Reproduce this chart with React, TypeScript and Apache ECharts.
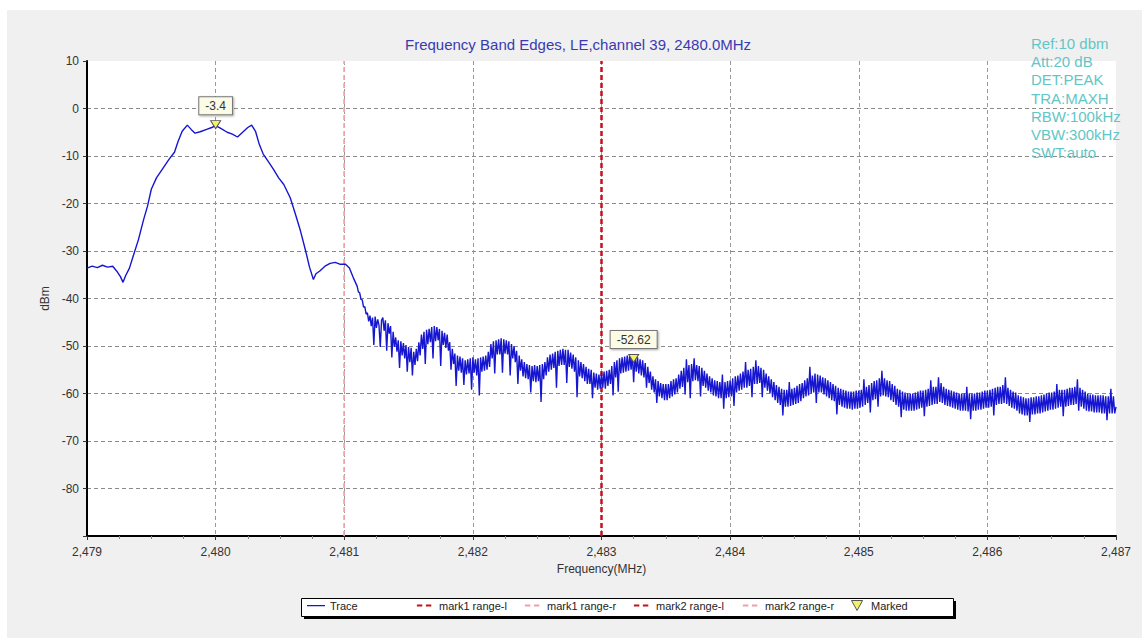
import React, { useEffect, useRef } from "react";
import * as echarts from "echarts";

const TITLE = "Frequency Band Edges, LE,channel 39, 2480.0MHz";
const INFO_LINES = ["Ref:10 dbm", "Att:20 dB", "DET:PEAK", "TRA:MAXH", "RBW:100kHz", "VBW:300kHz", "SWT:auto"];
const X_NAME = "Frequency(MHz)";
const Y_NAME = "dBm";
const X_MIN = 2479;
const X_MAX = 2487;
const Y_MIN = -90;
const Y_MAX = 10;
const LEGEND_NAMES = ["Trace", "mark1 range-l", "mark1 range-r", "mark2 range-l", "mark2 range-r", "Marked"];

// Main lobe: [frequency MHz, level dBm]
const lobe: [number, number][] = [
  [2479.0, -33.6], [2479.04, -33.2], [2479.08, -33.5], [2479.12, -33.0], [2479.16, -33.4], [2479.2, -33.2],
  [2479.23, -34.2], [2479.26, -35.4], [2479.28, -36.6], [2479.3, -35.2], [2479.33, -33.6], [2479.36, -31.0],
  [2479.4, -27.6], [2479.44, -23.4], [2479.47, -20.6], [2479.5, -17.0], [2479.54, -14.6], [2479.59, -12.6],
  [2479.64, -10.6], [2479.68, -9.2], [2479.71, -6.8], [2479.74, -4.8], [2479.78, -3.5], [2479.81, -4.4],
  [2479.84, -5.2], [2479.88, -4.9], [2479.93, -4.4], [2479.97, -4.0], [2480.0, -3.6], [2480.04, -4.2],
  [2480.09, -5.0], [2480.13, -5.4], [2480.17, -6.0], [2480.21, -5.0], [2480.25, -4.0], [2480.28, -3.5],
  [2480.31, -4.8], [2480.34, -7.6], [2480.37, -9.6], [2480.41, -11.2], [2480.45, -12.8], [2480.49, -14.6],
  [2480.53, -16.0], [2480.58, -18.8], [2480.62, -22.2], [2480.66, -25.8], [2480.7, -30.0], [2480.73, -33.4],
  [2480.76, -36.0], [2480.78, -34.8], [2480.81, -34.2], [2480.85, -33.2], [2480.89, -32.6], [2480.93, -32.4],
  [2480.97, -32.8], [2481.01, -32.8], [2481.04, -33.6], [2481.07, -35.6],
];

// Out-of-band trace, sampled every 0.01 MHz from 2481.10 MHz
const TAIL_START = 2481.1;
const TAIL_STEP = 0.01;
const tail: number[] = [
  -37.4, -38.6, -38.8, -40.2, -40.3, -41.8, -41.7, -43.3, -43.0, -44.8, // 2481.10
  -43.6, -45.8, -44.0, -49.8, -43.8, -46.2, -44.4, -45.6, -50.2, -44.6, // 2481.20
  -44.0, -46.8, -44.6, -51.0, -45.2, -47.4, -45.8, -52.4, -47.0, -50.2, // 2481.30
  -48.2, -51.2, -48.8, -54.6, -49.0, -52.0, -49.4, -52.6, -49.8, -55.4, // 2481.40
  -50.2, -53.4, -50.4, -56.2, -51.2, -54.0, -50.6, -53.2, -49.2, -52.0, // 2481.50
  -47.6, -50.6, -47.0, -53.8, -46.6, -49.6, -46.4, -49.2, -46.0, -52.6, // 2481.60
  -45.8, -49.0, -46.0, -48.8, -46.4, -54.2, -46.8, -49.8, -47.2, -50.4, // 2481.70
  -47.6, -51.0, -49.2, -55.0, -50.6, -53.8, -51.6, -58.4, -52.0, -55.2, // 2481.80
  -52.2, -55.6, -52.6, -58.2, -53.0, -56.0, -52.8, -55.8, -52.6, -59.2, // 2481.90
  -52.4, -55.6, -52.8, -56.2, -52.6, -60.4, -52.4, -55.4, -52.2, -55.2, // 2482.00
  -52.0, -55.0, -51.2, -54.4, -49.6, -52.6, -49.0, -55.8, -48.8, -51.8, // 2482.10
  -48.6, -51.8, -48.4, -55.6, -48.6, -51.6, -48.8, -51.8, -49.0, -56.2, // 2482.20
  -49.6, -52.6, -50.0, -53.4, -51.0, -58.0, -52.0, -55.2, -52.8, -56.4, // 2482.30
  -53.4, -56.8, -53.8, -57.0, -54.0, -59.8, -54.2, -57.4, -54.0, -57.6, // 2482.40
  -54.2, -57.4, -54.0, -61.8, -53.8, -57.0, -53.4, -56.2, -52.4, -55.4, // 2482.50
  -51.8, -55.0, -51.6, -54.6, -51.2, -58.8, -51.0, -54.2, -50.8, -54.0, // 2482.60
  -50.6, -54.0, -50.8, -57.8, -50.8, -54.4, -51.4, -54.8, -51.8, -55.4, // 2482.70
  -52.4, -60.8, -53.0, -56.4, -53.4, -56.8, -53.8, -57.4, -54.4, -58.0, // 2482.80
  -54.8, -58.0, -55.0, -61.0, -55.6, -58.8, -55.8, -59.2, -56.0, -59.0, // 2482.90
  -55.6, -58.8, -55.4, -59.0, -55.2, -58.4, -55.0, -58.0, -54.2, -60.4, // 2483.00
  -53.4, -56.6, -53.0, -59.6, -52.6, -55.8, -52.4, -55.6, -52.2, -55.4, // 2483.10
  -52.0, -55.2, -51.8, -55.0, -51.8, -57.6, -52.0, -55.4, -52.4, -55.8, // 2483.20
  -52.8, -56.2, -53.0, -56.6, -53.6, -58.8, -54.4, -57.8, -55.4, -59.2, // 2483.30
  -56.4, -59.8, -57.0, -62.0, -57.4, -60.6, -57.8, -61.0, -58.0, -61.4, // 2483.40
  -58.0, -61.4, -58.0, -61.0, -57.4, -60.6, -57.0, -60.2, -56.8, -59.8, // 2483.50
  -56.0, -59.0, -55.2, -58.6, -54.6, -60.2, -52.8, -57.6, -54.0, -61.0, // 2483.60
  -53.8, -57.4, -52.6, -57.2, -54.0, -57.4, -54.2, -60.6, -54.6, -58.4, // 2483.70
  -55.2, -58.8, -55.8, -59.4, -56.4, -59.8, -56.8, -60.4, -57.2, -60.6, // 2483.80
  -57.4, -61.0, -57.6, -61.0, -56.0, -63.2, -57.6, -61.0, -57.4, -60.8, // 2483.90
  -57.2, -60.6, -56.8, -62.6, -56.4, -59.8, -56.2, -59.4, -55.8, -59.2, // 2484.00
  -55.4, -58.8, -53.4, -58.8, -55.0, -58.4, -54.8, -60.8, -54.4, -58.0, // 2484.10
  -53.0, -58.0, -54.2, -57.8, -54.6, -60.8, -55.0, -58.8, -55.8, -59.4, // 2484.20
  -56.4, -60.0, -57.0, -60.8, -57.6, -61.4, -58.2, -62.0, -58.6, -62.4, // 2484.30
  -59.0, -64.6, -59.2, -62.8, -59.2, -62.8, -57.6, -62.6, -59.0, -62.4, // 2484.40
  -58.8, -62.2, -58.4, -62.0, -58.0, -61.6, -57.8, -61.0, -57.2, -60.6, // 2484.50
  -56.8, -60.4, -54.4, -60.0, -56.2, -59.8, -55.8, -62.0, -56.0, -59.8, // 2484.60
  -56.2, -59.8, -56.6, -60.2, -56.8, -60.6, -57.2, -61.0, -57.6, -61.4, // 2484.70
  -58.0, -61.6, -58.4, -64.4, -58.8, -62.4, -59.0, -62.8, -59.2, -63.0, // 2484.80
  -59.4, -63.2, -59.6, -63.2, -59.6, -63.4, -59.6, -63.2, -59.4, -63.2, // 2484.90
  -59.4, -63.0, -59.2, -62.8, -57.0, -62.4, -58.6, -62.0, -58.2, -64.0, // 2485.00
  -57.8, -61.4, -57.4, -61.2, -57.2, -62.8, -56.8, -60.6, -55.2, -60.4, // 2485.10
  -56.8, -60.6, -57.2, -60.8, -57.4, -61.4, -58.0, -61.8, -58.4, -62.4, // 2485.20
  -59.0, -62.8, -59.2, -65.0, -59.6, -63.4, -59.8, -63.6, -60.0, -63.6, // 2485.30
  -60.0, -63.6, -60.0, -63.6, -59.8, -63.4, -59.6, -63.2, -59.4, -63.0, // 2485.40
  -59.4, -64.8, -59.2, -62.8, -59.0, -62.6, -57.2, -62.4, -58.6, -62.2, // 2485.50
  -58.6, -62.2, -56.6, -61.8, -57.8, -62.0, -58.6, -62.4, -59.0, -62.6, // 2485.60
  -59.2, -62.8, -59.4, -63.0, -59.6, -63.2, -59.8, -63.4, -60.0, -63.6, // 2485.70
  -60.0, -63.6, -60.0, -63.6, -58.6, -63.8, -60.0, -65.4, -60.0, -63.6, // 2485.80
  -60.0, -63.6, -59.8, -63.4, -59.8, -63.4, -59.6, -63.2, -59.4, -63.0, // 2485.90
  -59.4, -63.0, -59.2, -62.8, -59.0, -64.6, -58.8, -62.4, -58.6, -62.2, // 2486.00
  -58.6, -62.2, -58.2, -62.0, -56.6, -62.2, -58.8, -62.6, -59.2, -63.0, // 2486.10
  -59.6, -63.2, -59.8, -63.6, -60.4, -64.2, -60.6, -64.4, -60.8, -64.6, // 2486.20
  -61.0, -64.6, -61.0, -66.0, -60.8, -64.4, -60.8, -64.4, -60.6, -64.2, // 2486.30
  -60.6, -64.2, -60.4, -64.0, -60.2, -63.8, -60.0, -63.6, -59.8, -63.4, // 2486.40
  -59.8, -63.4, -59.6, -63.2, -58.0, -63.0, -59.2, -62.8, -59.2, -64.8, // 2486.50
  -59.2, -62.8, -59.0, -62.6, -58.8, -62.4, -58.8, -62.4, -58.6, -62.2, // 2486.60
  -57.0, -63.6, -58.8, -62.8, -59.2, -63.2, -59.6, -63.6, -60.0, -63.8, // 2486.70
  -60.2, -63.8, -60.2, -64.0, -60.4, -64.0, -60.4, -64.0, -60.4, -64.2, // 2486.80
  -60.4, -64.2, -60.6, -65.6, -60.6, -64.2, -59.0, -64.2, -60.6, -64.2, // 2486.90
  -62.8, // 2487.00
];

// Markers: [frequency MHz, level dBm]
const markers: [number, number][] = [
  [2480.0, -3.4],
  [2483.25, -52.62],
];

// Vertical range markers (MHz)
const MARK1_RANGE_L = 2483;
const MARK1_RANGE_R = 2481;
const MARK2_RANGE_L = 2483;
const MARK2_RANGE_R = 2481;

const FONT = "'Liberation Sans', Arial, sans-serif";

const SPECKS = "M0,0h0.01v0.01h-0.01z M20,10h0.01v0.01h-0.01z ";
const ICON_SOLID = "path://" + SPECKS + "M0,4.4h20v1.3h-20z";
const ICON_DASH = "path://" + SPECKS + "M1,3.9h6v2.2h-6z M11,3.9h6v2.2h-6z";
const ICON_TRI = "path://M0,0L10,0L5,9Z";

function fmtX(v: number): string {
  const r = Math.round(v);
  const th = Math.floor(r / 1000);
  const rest = String(r % 1000).padStart(3, "0");
  return `${th},${rest}`;
}

export default function App() {
  const ref = useRef<HTMLDivElement>(null);
  useEffect(() => {
    if (!ref.current) return;
    const chart = echarts.init(ref.current, undefined, { renderer: "svg" });
    const trace: [number, number][] = [
      ...lobe,
      ...tail.map((v, i) => [Number((TAIL_START + i * TAIL_STEP).toFixed(2)), v] as [number, number]),
    ];
    const vline = (x: number): [number, number][] => [[x, Y_MIN], [x, Y_MAX]];
    const DARK = "#c8101a";
    const PINK = "#f0a0a8";
    const TRACE = "#1616d0";
    const dark = { color: DARK, width: 2, type: [5, 3] as number[] };
    const pink = { color: PINK, width: 1.5, type: [5, 3] as number[] };
    const legendIcons = [ICON_SOLID, ICON_DASH, ICON_DASH, ICON_DASH, ICON_DASH, ICON_TRI];
    const legendColors = [TRACE, DARK, PINK, DARK, PINK, "#f4f06a"];
    const legendLefts = [307, 416, 524, 633, 742, 851];
    const legends = LEGEND_NAMES.map((name, i) => ({
      left: legendLefts[i], top: 600, padding: 0,
      itemWidth: 18, itemHeight: 10, itemTextGap: 5,
      textStyle: { fontSize: 11, color: "#222", fontFamily: FONT },
      data: [
        {
          name, icon: legendIcons[i],
          itemStyle: i === 5
            ? { color: legendColors[i], borderColor: "#555", borderWidth: 1 }
            : { color: legendColors[i], borderWidth: 0 },
        },
      ],
    }));
    chart.setOption({
      animation: false,
      textStyle: { fontFamily: FONT },
      graphic: [
        { type: "rect", z: -10, shape: { x: 7, y: 10, width: 1135, height: 628 }, style: { fill: "#f0f0f0" }, silent: true },
        { type: "rect", z: 1, shape: { x: 304, y: 601, width: 652, height: 18 }, style: { fill: "#000" }, silent: true },
        { type: "rect", z: 2, shape: { x: 301.5, y: 598.5, width: 652, height: 18 }, style: { fill: "#fff", stroke: "#000", lineWidth: 1 }, silent: true },
        {
          type: "text", z: 100, x: 1031, y: 34,
          style: { text: INFO_LINES.join("\n"), fill: "#62c6c6", font: `15px ${FONT}`, lineHeight: 18.3 },
        },
      ],
      title: {
        text: TITLE, left: 405, top: 37, padding: 0,
        textStyle: { color: "#3a3ab0", fontSize: 15, fontWeight: "normal", fontFamily: FONT },
      },
      legend: legends,
      grid: {
        left: 87, top: 61, width: 1029, height: 475,
        show: true, backgroundColor: "#ffffff", borderWidth: 0,
      },
      xAxis: {
        type: "value", min: X_MIN, max: X_MAX, interval: 1,
        name: X_NAME, nameLocation: "middle", nameGap: 23,
        nameTextStyle: { fontSize: 12, color: "#333" },
        axisLine: { onZero: false, lineStyle: { color: "#000", width: 2 } },
        axisTick: { show: true, length: 4, lineStyle: { color: "#333" } },
        minorTick: { show: true, splitNumber: 4, length: 3, lineStyle: { color: "#888" } },
        axisLabel: { fontSize: 12, color: "#333", margin: 10, formatter: (v: number) => fmtX(v) },
        splitLine: { show: true, showMinLine: false, showMaxLine: false, lineStyle: { color: "#999", type: [4, 3], width: 1 } },
      },
      yAxis: {
        type: "value", min: Y_MIN, max: Y_MAX, interval: 10,
        name: Y_NAME, nameLocation: "middle", nameGap: 30,
        nameTextStyle: { fontSize: 12, color: "#333" },
        axisLine: { show: true, onZero: false, lineStyle: { color: "#000", width: 2 } },
        axisTick: { show: true, length: 4, lineStyle: { color: "#333" } },
        axisLabel: { fontSize: 12, color: "#333", margin: 8, formatter: (v: number) => (v === Y_MIN ? "" : String(v)) },
        splitLine: { show: true, showMinLine: false, showMaxLine: false, lineStyle: { color: "#8a8a8a", type: [4, 3], width: 1 } },
      },
      series: [
        {
          name: "mark1 range-r", type: "line", data: vline(MARK1_RANGE_R), symbol: "none",
          lineStyle: pink, itemStyle: { color: PINK }, z: 3,
        },
        {
          name: "mark2 range-r", type: "line", data: vline(MARK2_RANGE_R), symbol: "none",
          lineStyle: pink, itemStyle: { color: PINK }, z: 3,
        },
        {
          name: "mark1 range-l", type: "line", data: vline(MARK1_RANGE_L), symbol: "none",
          lineStyle: dark, itemStyle: { color: DARK }, z: 3,
        },
        {
          name: "mark2 range-l", type: "line", data: vline(MARK2_RANGE_L), symbol: "none",
          lineStyle: dark, itemStyle: { color: DARK }, z: 3,
        },
        {
          name: "Trace", type: "line", data: trace, symbol: "none",
          lineStyle: { color: TRACE, width: 1.4 }, itemStyle: { color: TRACE }, z: 4,
        },
        {
          name: "Marked", type: "scatter", data: markers,
          symbol: ICON_TRI, symbolSize: [10, 8],
          itemStyle: { color: "#f4f06a", borderColor: "#555", borderWidth: 1, opacity: 1 },
          z: 6,
          label: {
            show: true, position: "top", distance: 6,
            formatter: (p: any) => String(p.value[1]),
            backgroundColor: "#fbfbe6", borderColor: "#777", borderWidth: 1,
            padding: [3, 6, 2, 6], fontSize: 12, color: "#333",
            shadowColor: "rgba(0,0,0,0.35)", shadowBlur: 2, shadowOffsetX: 1, shadowOffsetY: 1,
          },
        },
      ],
    });
    return () => chart.dispose();
  }, []);
  return (
    <div
      ref={ref}
      style={{ position: "absolute", left: 0, top: 0, width: 1145, height: 641, background: "#ffffff" }}
    />
  );
}
